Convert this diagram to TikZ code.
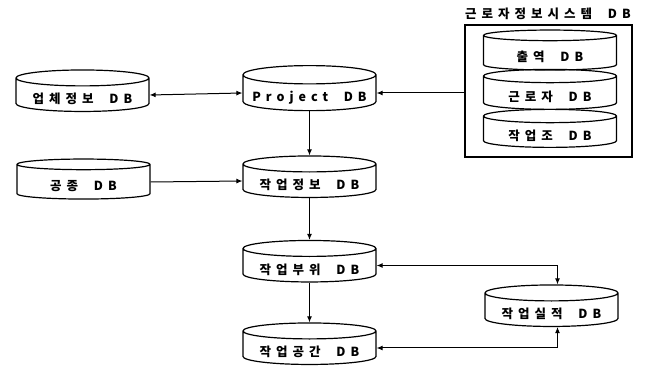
\documentclass[tikz,border=0pt]{standalone}
\usepackage{fontspec}
\newfontfamily\kr{Noto Sans CJK KR}[LetterSpace=40]
\usetikzlibrary{shapes.geometric, arrows.meta}

\tikzset{
  db/.style={cylinder, shape border rotate=90, draw, line width=1.2pt, aspect=0.16,
    minimum width=133pt, minimum height=40pt, inner sep=0pt, text height=17pt, text depth=0pt,
    font=\kr\bfseries\fontsize{12.5}{13}\selectfont},
}

\begin{document}
\begin{tikzpicture}[x=1pt, y=-1pt, >={Latex[length=6pt,width=5pt]}, line width=1pt]
        \useasboundingbox (0,0) rectangle (646,369);
        % left column
        \node[db] (firm) at (82.5, 95) {업체정보~~DB};
        \node[db] (trade) at (83.5, 182) {공종~~DB};
        % middle column
        \node[db] (proj) at (309.5, 93) {Project~~DB};
        \node[db] (info) at (309.5, 181) {작업정보~~DB};
        \node[db] (part) at (309.5, 265.5) {작업부위~~DB};
        \node[db] (space) at (309.5, 348) {작업공간~~DB};
        \node[db] (perf) at (551.5, 310) {작업실적~~DB};
        % worker system
        \node[draw, line width=1.2pt, minimum width=167pt, minimum height=132pt] (sys) at (548.5, 91) {};
        \node[font=\kr\bfseries\fontsize{12.5}{13}\selectfont] (systitle) at (548, 14) {근로자정보시스템~~DB};
        \node[db] (attend) at (550, 53) {출역~~DB};
        \node[db] (worker) at (550, 93) {근로자~~DB};
        \node[db, minimum height=38pt] (crew) at (550, 132) {작업조~~DB};
        % links
        \draw[<->] (firm.east) -- (proj.west);
        \draw[->] (sys.west |- proj.east) -- (proj.east);
        \draw[->] (proj.south) -- (info.north);
        \draw[->] (trade.east) -- (info.west);
        \draw[->] (info.south) -- (part.north);
        \draw[->] (part.south) -- (space.north);
        \draw[<->] (part.east) -| ([xshift=6pt]perf.north);
        \draw[<->] (space.east) -| ([xshift=6pt]perf.south);
    \end{tikzpicture}
\end{document}
